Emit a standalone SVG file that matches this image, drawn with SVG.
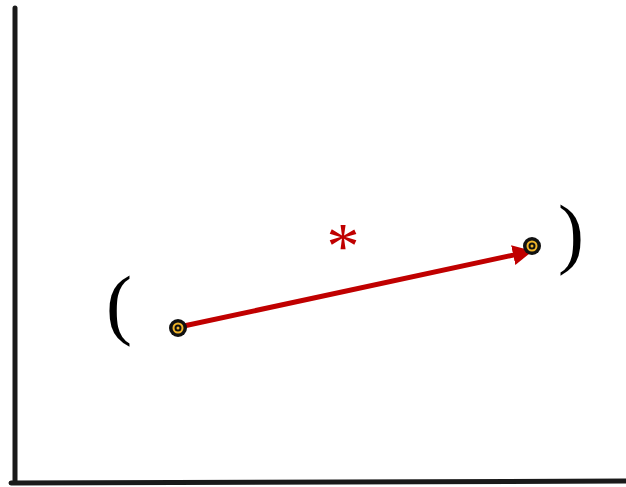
<svg xmlns="http://www.w3.org/2000/svg" width="626" height="487" viewBox="0 0 626 487">
<style>
.axis{stroke:#1a1a1a;stroke-width:5;stroke-linecap:round;fill:none}
.paren{font-family:"Liberation Serif",serif;font-size:78px;fill:#000}
.dot-outer{fill:#111}
.dot-ring{fill:none;stroke:#f0b429;stroke-width:2}
.dot-core{fill:#f0b429}
</style>
<defs>
<marker id="ah" markerWidth="4" markerHeight="4" refX="2" refY="2" orient="auto" markerUnits="strokeWidth">
<path d="M0,0 L4,2 L0,4 Z" fill="#c00000"/>
</marker>
</defs>
<g id="axes">
<line class="axis" x1="15" y1="8" x2="15" y2="482"/>
<line class="axis" x1="11" y1="483" x2="626" y2="481"/>
</g>
<g id="connectors">
<line x1="179" y1="327" x2="523" y2="253" stroke="#c00000" stroke-width="5" marker-end="url(#ah)"/>
</g>
<g id="p1">
<circle class="dot-outer" cx="178" cy="328" r="9"/>
<circle class="dot-ring" cx="178" cy="328" r="4.5"/>
<circle class="dot-core" cx="178" cy="328" r="1.5"/>
</g>
<g id="p2">
<circle class="dot-outer" cx="532" cy="246" r="9"/>
<circle class="dot-ring" cx="532" cy="246" r="4.5"/>
<circle class="dot-core" cx="532" cy="246" r="1.5"/>
</g>
<g id="labels">
<text class="paren" x="106" y="330">(</text>
<text class="paren" x="558" y="259">)</text>
<text x="343" y="268" text-anchor="middle" font-family="Liberation Serif,serif" font-size="66" fill="#c00000">*</text>
</g>
</svg>
